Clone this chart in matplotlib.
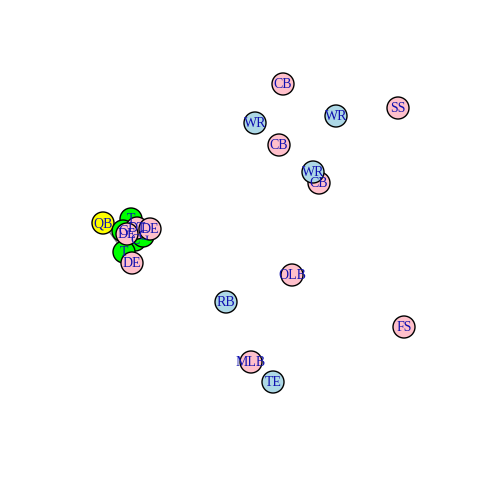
import matplotlib
matplotlib.use("Agg")
import matplotlib.pyplot as plt
from matplotlib.patches import Circle

# player positions (picture pixels, y downwards), in drawing order
labels = ["QB", "T", "G", "C", "G", "T",
          "DT", "DE", "DE", "DE",
          "CB", "SS", "WR", "WR", "CB", "CB", "WR",
          "OLB", "RB", "FS", "MLB", "TE"]
xs = [103, 131, 123, 135, 143, 124,
      137, 150, 127, 132,
      283, 398, 255, 336, 279, 319, 313,
      292, 226, 404, 251, 273]
ys = [223, 219, 231, 240, 236, 252,
      228, 229, 234, 263,
      84, 108, 123, 116, 145, 183, 172,
      275, 302, 327, 362, 382]
colors = ["yellow", "#00ff00", "#00ff00", "#00ff00", "#00ff00", "#00ff00",
          "pink", "pink", "pink", "pink",
          "pink", "pink", "lightblue", "lightblue", "pink", "pink", "lightblue",
          "pink", "lightblue", "pink", "pink", "lightblue"]

# edges between players (index pairs)
edges = [(0, 2), (0, 5), (2, 5), (4, 5), (1, 4)]

fig = plt.figure(figsize=(4.8, 4.8), dpi=100)
ax = fig.add_axes([0, 0, 1, 1])
ax.set_xlim(0, 480)
ax.set_ylim(480, 0)
ax.set_aspect("equal")
ax.axis("off")

for a, b in edges:
    ax.plot([xs[a], xs[b]], [ys[a], ys[b]], color="gray", lw=1, zorder=1)

for i in range(len(labels)):
    ax.add_patch(Circle((xs[i], ys[i]), 11, facecolor=colors[i],
                        edgecolor="black", lw=1, zorder=2 + i * 0.01))

for i in range(len(labels)):
    ax.text(xs[i], ys[i] + 0.5, labels[i], color="#1010b0", fontsize=10,
            family="Liberation Serif", ha="center", va="center", zorder=5)

fig.savefig("out.png", dpi=100)
